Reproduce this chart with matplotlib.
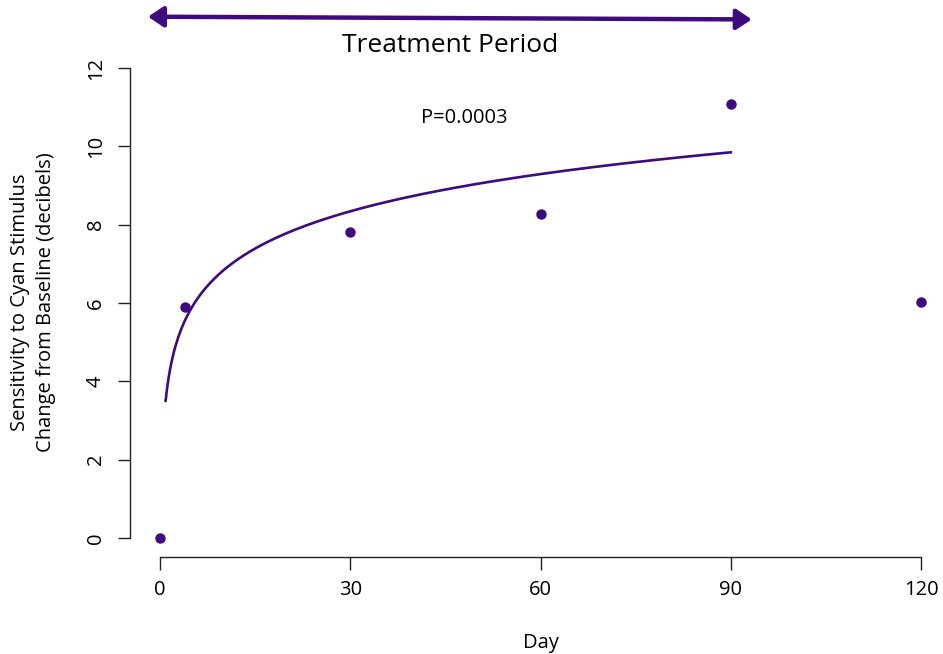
import numpy as np
import matplotlib
matplotlib.use("Agg")
import matplotlib.pyplot as plt

plt.rcParams['font.family'] = ['Open Sans', 'DejaVu Sans']

# Data
days = [0, 4, 30, 60, 90, 120]
change_db = [0.0, 5.90, 7.81, 8.27, 11.08, 6.02]
x_ticks = [0, 30, 60, 90, 120]
y_ticks = [0, 2, 4, 6, 8, 10, 12]
p_label = "P=0.0003"
title_text = "Treatment Period"
fit_days = [4, 30, 60, 90]          # points used for logarithmic fit
fit_range = (0.88, 90)
treatment_span = (-1.9, 93.3)

color = '#3E0A7E'

fig = plt.figure(figsize=(9.43, 6.54), dpi=100)
ax = fig.add_axes([129.6 / 943, 1 - 556.8 / 654, (951.5 - 129.6) / 943, (556.8 - 49.2) / 654])
ax.set_xlim(-4.8, 124.8)
ax.set_ylim(-0.48, 12.48)

# points
ax.plot(days, change_db, 'o', color=color, markersize=6.5, clip_on=False, zorder=3)

# logarithmic fit
d = np.array(days, dtype=float)
v = np.array(change_db)
mask = np.isin(d, fit_days)
b, a = np.polyfit(np.log(d[mask]), v[mask], 1)
xs = np.linspace(fit_range[0], fit_range[1], 400)
ax.plot(xs, a + b * np.log(xs), color=color, lw=1.9, zorder=2)

# axes styling (R-like)
for s in ['top', 'right']:
    ax.spines[s].set_visible(False)
ax.spines['left'].set_bounds(0, 12)
ax.spines['bottom'].set_bounds(0, 120)
for s in ['left', 'bottom']:
    ax.spines[s].set_linewidth(1.0)
    ax.spines[s].set_color('#222222')
ax.set_xticks(x_ticks)
ax.set_yticks(y_ticks)
ax.tick_params(axis='both', length=9, width=1.0, color='#222222', labelsize=14.5, pad=8)
ax.set_yticklabels([str(t) for t in y_ticks], rotation=90, va='center')
ax.set_xticklabels([str(t) for t in x_ticks])

fig.text(541 / 943, 1 - 643 / 654, "Day", ha='center', va='center', fontsize=14.5)
fig.text(20 / 943, 1 - 302 / 654, "Sensitivity to Cyan Stimulus", ha='center', va='center',
         rotation=90, fontsize=14.5)
fig.text(46 / 943, 1 - 302 / 654, "Change from Baseline (decibels)", ha='center', va='center',
         rotation=90, fontsize=14.5)

ax.text(45.7, 12.58, title_text, ha='center', va='center', fontsize=19, clip_on=False)
ax.text(48.0, 10.72, p_label, ha='center', va='center', fontsize=14.5)

ax.annotate('', xy=(treatment_span[0], 13.31), xytext=(treatment_span[1], 13.24),
            arrowprops=dict(arrowstyle='<|-|>,head_length=0.42,head_width=0.28', color=color, lw=3.2,
                            mutation_scale=22, shrinkA=0, shrinkB=0),
            annotation_clip=False)

fig.savefig('out.png', dpi=100)
